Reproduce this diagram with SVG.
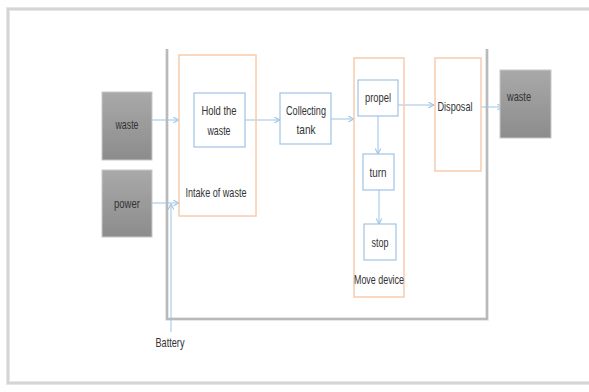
<svg xmlns="http://www.w3.org/2000/svg" width="589" height="392" viewBox="0 0 589 392">
<defs>
<linearGradient id="gray" x1="0" y1="0" x2="0" y2="1">
<stop offset="0" stop-color="#a9a9a9"/>
<stop offset="1" stop-color="#8c8c8c"/>
</linearGradient>
<marker id="ah" viewBox="0 0 10 10" refX="9" refY="5" markerWidth="7" markerHeight="7" markerUnits="userSpaceOnUse" orient="auto">
<path d="M1,1 L9,5 L1,9" fill="none" stroke="#9dc3e6" stroke-width="1.5"/>
</marker>
</defs>
<style>
text{font-family:"Liberation Sans",Arial,sans-serif;font-size:13px;fill:#333;text-anchor:middle}
.blue{fill:#fff;stroke:#9dc3e6;stroke-width:1.2}
.orange{fill:none;stroke:#f8cbad;stroke-width:1.5}
.grey{fill:url(#gray);stroke:#c8c8c8;stroke-width:1}
.conn{fill:none;stroke:#9dc3e6;stroke-width:1;marker-end:url(#ah)}
</style>
<rect x="0" y="0" width="589" height="392" fill="#fff"/>
<g id="page">
<rect x="8" y="9" width="600" height="374" fill="none" stroke="#e6e6e6" stroke-width="4"/>
<rect x="8" y="9" width="600" height="374" fill="none" stroke="#c4c4c4" stroke-width="1"/>
</g>
<g id="frame">
<path d="M167,49 V319 H487 V49" fill="none" stroke="#e0e0e0" stroke-width="3.5"/>
<path d="M167,49 V319 H487 V49" fill="none" stroke="#acacac" stroke-width="1.5"/>
</g>
<g id="connectors">
<line class="conn" x1="152" y1="120" x2="179" y2="120"/>
<line class="conn" x1="152" y1="203" x2="179" y2="203"/>
<line class="conn" x1="171" y1="332" x2="171" y2="204"/>
<line class="conn" x1="245" y1="120" x2="280" y2="120"/>
<line class="conn" x1="331" y1="119" x2="354" y2="119"/>
<line class="conn" x1="378" y1="116" x2="378" y2="154"/>
<line class="conn" x1="379" y1="190" x2="379" y2="224"/>
<line class="conn" x1="398" y1="105" x2="434" y2="105"/>
<line class="conn" x1="481" y1="107" x2="503" y2="107"/>
</g>
<g id="waste-in">
<rect class="grey" x="102" y="92" width="50" height="68"/>
<text x="127" y="129" textLength="23" lengthAdjust="spacingAndGlyphs">waste</text>
</g>
<g id="power">
<rect class="grey" x="102" y="170" width="50" height="67"/>
<text x="127" y="208" textLength="26" lengthAdjust="spacingAndGlyphs">power</text>
</g>
<g id="intake">
<rect class="orange" x="179" y="55" width="77" height="161"/>
<text x="216" y="197" textLength="61" lengthAdjust="spacingAndGlyphs">Intake of waste</text>
</g>
<g id="hold">
<rect class="blue" x="194" y="93" width="51" height="54"/>
<text x="219" y="115" textLength="35" lengthAdjust="spacingAndGlyphs">Hold the</text>
<text x="219" y="135" textLength="23" lengthAdjust="spacingAndGlyphs">waste</text>
</g>
<g id="collecting">
<rect class="blue" x="280" y="93" width="51" height="51"/>
<text x="306" y="115" textLength="40" lengthAdjust="spacingAndGlyphs">Collecting</text>
<text x="306" y="134" textLength="19" lengthAdjust="spacingAndGlyphs">tank</text>
</g>
<g id="move">
<rect class="orange" x="354" y="58" width="50" height="239"/>
<text x="379" y="284" textLength="50" lengthAdjust="spacingAndGlyphs">Move device</text>
</g>
<g id="propel">
<rect class="blue" x="358" y="80" width="40" height="36"/>
<text x="378" y="102" textLength="26" lengthAdjust="spacingAndGlyphs">propel</text>
</g>
<g id="turn">
<rect class="blue" x="363" y="154" width="31" height="36"/>
<text x="378" y="177" textLength="17" lengthAdjust="spacingAndGlyphs">turn</text>
</g>
<g id="stop">
<rect class="blue" x="364" y="224" width="32" height="36"/>
<text x="380" y="247" textLength="17" lengthAdjust="spacingAndGlyphs">stop</text>
</g>
<g id="disposal">
<rect class="orange" x="435" y="58" width="46" height="113"/>
<text x="455" y="111" textLength="35" lengthAdjust="spacingAndGlyphs">Disposal</text>
</g>
<g id="waste-out">
<rect class="grey" x="500" y="70" width="51" height="68"/>
<text x="519" y="101" textLength="24" lengthAdjust="spacingAndGlyphs">waste</text>
</g>
<g id="battery">
<text x="170" y="347" textLength="29" lengthAdjust="spacingAndGlyphs">Battery</text>
</g>
</svg>
